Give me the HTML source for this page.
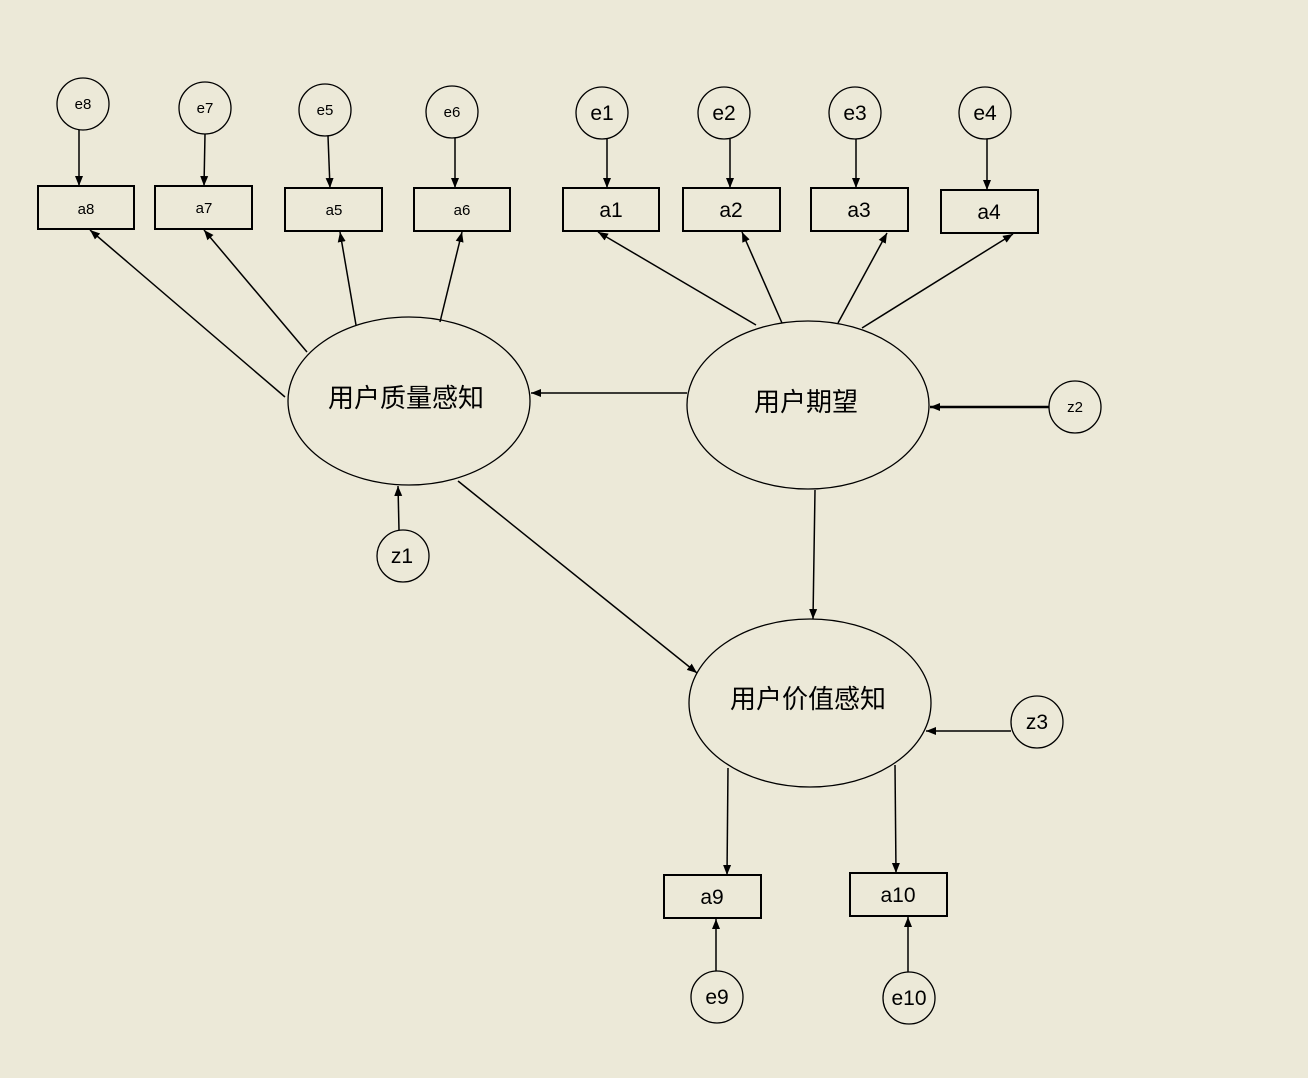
<!DOCTYPE html>
<html><head><meta charset="utf-8"><style>
html,body{margin:0;padding:0;background:#ece9d8;}
svg{display:block;font-family:"Liberation Sans","Noto Sans CJK SC",sans-serif;}
</style></head><body>
<svg width="1308" height="1078" viewBox="0 0 1308 1078" xmlns="http://www.w3.org/2000/svg">
<defs><marker id="a" viewBox="0 0 10 10" refX="10" refY="5" markerWidth="10" markerHeight="10" markerUnits="userSpaceOnUse" orient="auto"><path d="M0,1 L10,5 L0,9 z" fill="#000"/></marker></defs>
<rect width="1308" height="1078" fill="#ece9d8"/>
<g fill="none" stroke="#000" stroke-width="1.3">
<ellipse cx="409" cy="401" rx="121" ry="84"/>
<ellipse cx="808" cy="405" rx="121" ry="84"/>
<ellipse cx="810" cy="703" rx="121" ry="84"/>
<g stroke-width="2">
<rect x="38" y="186" width="96" height="43"/>
<rect x="155" y="186" width="97" height="43"/>
<rect x="285" y="188" width="97" height="43"/>
<rect x="414" y="188" width="96" height="43"/>
<rect x="563" y="188" width="96" height="43"/>
<rect x="683" y="188" width="97" height="43"/>
<rect x="811" y="188" width="97" height="43"/>
<rect x="941" y="190" width="97" height="43"/>
<rect x="664" y="875" width="97" height="43"/>
<rect x="850" y="873" width="97" height="43"/>
</g>
<circle cx="83" cy="104" r="26"/><circle cx="205" cy="108" r="26"/>
<circle cx="325" cy="110" r="26"/><circle cx="452" cy="112" r="26"/>
<circle cx="602" cy="113" r="26"/><circle cx="724" cy="113" r="26"/>
<circle cx="855" cy="113" r="26"/><circle cx="985" cy="113" r="26"/>
<circle cx="403" cy="556" r="26"/><circle cx="1075" cy="407" r="26"/>
<circle cx="1037" cy="722" r="26"/><circle cx="717" cy="997" r="26"/>
<circle cx="909" cy="998" r="26"/>
</g>
<g stroke="#000" stroke-width="1.5" marker-end="url(#a)">
<line x1="79" y1="130" x2="79" y2="186"/><line x1="205" y1="134" x2="204" y2="186"/>
<line x1="328" y1="136" x2="330" y2="188"/><line x1="455" y1="138" x2="455" y2="188"/>
<line x1="607" y1="139" x2="607" y2="188"/><line x1="730" y1="139" x2="730" y2="188"/>
<line x1="856" y1="139" x2="856" y2="188"/><line x1="987" y1="139" x2="987" y2="190"/>
<line x1="285" y1="397" x2="90" y2="230"/><line x1="307" y1="352" x2="204" y2="230"/>
<line x1="356" y1="325" x2="340" y2="232"/><line x1="440" y1="322" x2="462" y2="232"/>
<line x1="756" y1="325" x2="598" y2="232"/><line x1="782" y1="323" x2="742" y2="232"/>
<line x1="838" y1="323" x2="887" y2="233"/><line x1="862" y1="328" x2="1013" y2="234"/>
<line x1="687" y1="393" x2="531" y2="393"/>
<line x1="1049" y1="407" x2="930" y2="407" stroke-width="2.5"/>
<line x1="815" y1="490" x2="813" y2="619"/>
<line x1="458" y1="481" x2="697" y2="673"/>
<line x1="1011" y1="731" x2="926" y2="731"/>
<line x1="728" y1="768" x2="727" y2="875"/>
<line x1="895" y1="765" x2="896" y2="873"/>
<line x1="716" y1="971" x2="716" y2="919"/>
<line x1="908" y1="972" x2="908" y2="917"/>
<line x1="399" y1="530" x2="398" y2="486"/>
</g>
<g font-size="15" text-anchor="middle" fill="#000">
<text x="83" y="109">e8</text><text x="205" y="113">e7</text>
<text x="325" y="115">e5</text><text x="452" y="117">e6</text>
<text x="86" y="214">a8</text><text x="204" y="213">a7</text>
<text x="334" y="215">a5</text><text x="462" y="215">a6</text>
<text x="1075" y="412">z2</text>
</g>
<g font-size="21" text-anchor="middle" fill="#000">
<text x="602" y="120">e1</text><text x="724" y="120">e2</text>
<text x="855" y="120">e3</text><text x="985" y="120">e4</text>
<text x="611" y="217">a1</text><text x="731" y="217">a2</text>
<text x="859" y="217">a3</text><text x="989" y="219">a4</text>
<text x="402" y="563">z1</text><text x="1037" y="729">z3</text>
<text x="712" y="904">a9</text><text x="898" y="902">a10</text>
<text x="717" y="1004">e9</text><text x="909" y="1005">e10</text>
</g>
<g font-size="26" text-anchor="middle" fill="#000">
<text x="406" y="407">用户质量感知</text>
<text x="806" y="411">用户期望</text>
<text x="808" y="708">用户价值感知</text>
</g>
</svg>
</body></html>
